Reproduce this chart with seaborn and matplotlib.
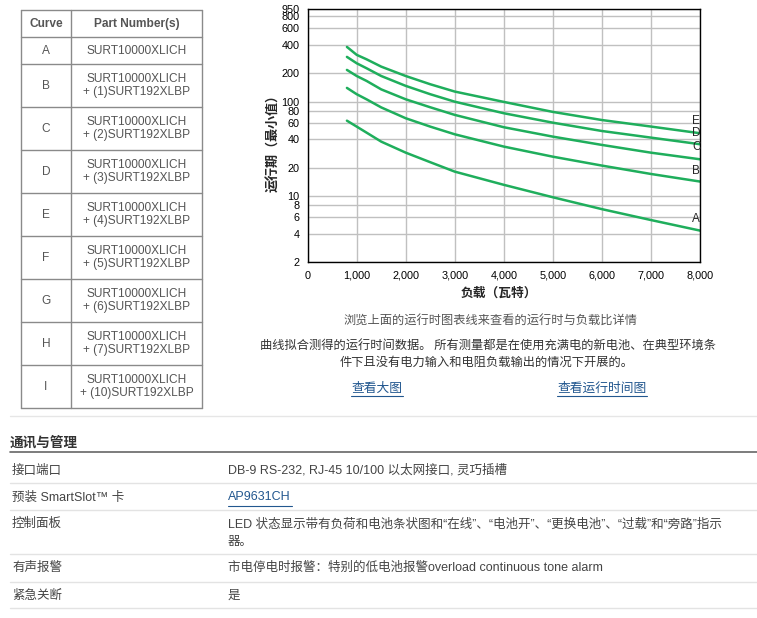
import numpy as np
import pandas as pd
import matplotlib
matplotlib.use('Agg')
import matplotlib.pyplot as plt
from matplotlib.ticker import NullLocator
import seaborn as sns

# runtime curves (minutes)
loads = [800, 1000, 1200, 1500, 2000, 2500, 3000, 4000, 5000, 6000, 7000, 8000]
curve_a = [63, 54.5, 47.1, 37.8, 28.9, 22.9, 18.2, 13.2, 9.75, 7.3, 5.6, 4.33]
curve_b = [140, 120, 106, 87, 66.8, 54.5, 45.2, 33.5, 26.2, 21.1, 17.2, 14.3]
curve_c = [217, 187, 166, 135, 106, 87.3, 72.5, 53.7, 42.7, 34.9, 28.9, 24.6]
curve_d = [298, 255, 226, 187, 147, 120, 100, 75.5, 60, 49, 41.7, 35.5]
curve_e = [380, 313, 281, 235, 187, 153, 128, 99.5, 78, 64, 54.6, 46.4]
curve_names = ['A', 'B', 'C', 'D', 'E']
label_y = [5.7, 18.7, 33.5, 47, 63]

xticks = [0, 1000, 2000, 3000, 4000, 5000, 6000, 7000, 8000]
yticks = [2, 4, 6, 8, 10, 20, 40, 60, 80, 100, 200, 400, 600, 800, 950]

table_curves = ['A', 'B', 'C', 'D', 'E', 'F', 'G', 'H', 'I']
table_parts = ['SURT10000XLICH',
               'SURT10000XLICH\n+ (1)SURT192XLBP',
               'SURT10000XLICH\n+ (2)SURT192XLBP',
               'SURT10000XLICH\n+ (3)SURT192XLBP',
               'SURT10000XLICH\n+ (4)SURT192XLBP',
               'SURT10000XLICH\n+ (5)SURT192XLBP',
               'SURT10000XLICH\n+ (6)SURT192XLBP',
               'SURT10000XLICH\n+ (7)SURT192XLBP',
               'SURT10000XLICH\n+ (10)SURT192XLBP']

spec_keys = ['接口端口', '预装 SmartSlot™ 卡', '控制面板', '有声报警', '紧急关断']
spec_vals = ['DB-9 RS-232, RJ-45 10/100 以太网接口, 灵巧插槽',
             'AP9631CH',
             'LED 状态显示带有负荷和电池条状图和“在线”、“电池开”、“更换电池”、“过载”和“旁路”指示\n器。',
             '市电停电时报警：特别的低电池报警overload continuous tone alarm',
             '是']

sns.set_style('white')
plt.rcParams['font.family'] = ['Liberation Sans', 'Noto Sans CJK SC', 'DejaVu Sans']
CJK = ['Noto Sans CJK SC', 'Liberation Sans']

df = pd.concat([pd.DataFrame({'load': loads, 'runtime': v, 'curve': n})
                for n, v in zip(curve_names, [curve_a, curve_b, curve_c, curve_d, curve_e])])

W, H = 757, 618
fig = plt.figure(figsize=(W / 100, H / 100), dpi=100)

# page background axes in pixel coordinates
bg = fig.add_axes([0, 0, 1, 1], zorder=0)
bg.set_xlim(0, W)
bg.set_ylim(H, 0)
bg.axis('off')

# chart
x0, x1, y0, y1 = 307.7, 700, 9.3, 262.3
ax = fig.add_axes([x0 / W, 1 - y1 / H, (x1 - x0) / W, (y1 - y0) / H], zorder=2)
green = '#1fae5c'
sns.lineplot(data=df, x='load', y='runtime', hue='curve', palette=[green] * 5,
             legend=False, ax=ax, linewidth=1.8)
ax.set_yscale('log')
ax.set_xlim(0, 8000)
ax.set_ylim(2, 950)
ax.set_xticks(xticks)
ax.set_xticklabels([f'{v:,}' for v in xticks], fontsize=7.8)
ax.set_yticks(yticks)
ax.set_yticklabels([str(v) for v in yticks], fontsize=7.8)
ax.yaxis.set_minor_locator(NullLocator())
ax.grid(True, color='#c0c0c0', linewidth=1)
ax.tick_params(direction='out', length=4, width=1, color='black', pad=2, labelcolor='black')
for s in ax.spines.values():
    s.set_color('black')
    s.set_linewidth(1)
ax.set_xlabel('')
ax.set_ylabel('')
for n, yv in zip(curve_names, label_y):
    ax.text(7840, yv, n, fontsize=8.5, va='center', ha='left')

bg.text(273, 140, '运行期（最小值）', rotation=90, ha='center', va='center',
        fontsize=9.4, fontweight='bold', family=CJK)
bg.text(499, 293, '负载（瓦特）', ha='center', va='center',
        fontsize=9.2, fontweight='bold', family=CJK)

# curve / part number table
tl, tm, tr = 20.7, 71.3, 202.3
rows_y = [10.3, 37, 64.3, 107.3, 150.3, 193.3, 236.3, 279.3, 322.3, 365.3, 408.3]
bc = '#8a8a8a'
for yy in rows_y:
    bg.plot([tl, tr], [yy, yy], color=bc, lw=1)
for xx in [tl, tm, tr]:
    bg.plot([xx, xx], [rows_y[0], rows_y[-1]], color=bc, lw=1)
tc = '#555555'
bg.text((tl + tm) / 2, 23.7, 'Curve', ha='center', va='center', fontsize=8.6,
        fontweight='bold', color=tc)
bg.text((tm + tr) / 2, 23.7, 'Part Number(s)', ha='center', va='center', fontsize=8.6,
        fontweight='bold', color=tc)
for i, (c, p) in enumerate(zip(table_curves, table_parts)):
    yc = (rows_y[i + 1] + rows_y[i + 2]) / 2
    bg.text((tl + tm) / 2, yc, c, ha='center', va='center', fontsize=8.6, color=tc)
    bg.text((tm + tr) / 2, yc, p, ha='center', va='center', fontsize=8.6, color=tc,
            linespacing=1.15)
bg.plot([10, W], [416, 416], color='#e6e6e6', lw=1)

# notes under the chart
bg.text(490, 320, '浏览上面的运行时图表线来查看的运行时与负载比详情', ha='center', va='center',
        fontsize=8.8, style='italic', color='#555555', family=CJK)
bg.text(488, 346, '曲线拟合测得的运行时间数据。 所有测量都是在使用充满电的新电池、在典型环境条',
        ha='center', va='center', fontsize=8.8, color='#333333', family=CJK)
bg.text(487, 362, '件下且没有电力输入和电阻负载输出的情况下开展的。',
        ha='center', va='center', fontsize=8.8, color='#333333', family=CJK)
link = '#22578f'
for xc, txt, wd in [(377, '查看大图', 52), (602, '查看运行时间图', 90)]:
    bg.text(xc, 388, txt, ha='center', va='center', fontsize=9.2, color=link, family=CJK)
    bg.plot([xc - wd / 2, xc + wd / 2], [396, 396], color=link, lw=0.8)

# communications & management section
bg.text(10, 443, '通讯与管理', ha='left', va='center', fontsize=9.8, fontweight='bold',
        color='#333333', family=CJK)
bg.plot([10, W], [452.3, 452.3], color='#666666', lw=1.2)
key_y = [470.7, 497.5, 524, 568.3, 596]
val_y = [470.7, 497.5, 533, 568.3, 596]
seps = [483.3, 510, 554.3, 581.7, 608.3]
for k, v, yk, yv in zip(spec_keys, spec_vals, key_y, val_y):
    bg.text(12, yk, k, ha='left', va='center', fontsize=9, color='#444444')
    col = link if v == 'AP9631CH' else '#444444'
    bg.text(228, yv, v, ha='left', va='center', fontsize=9, color=col, linespacing=1.55)
bg.plot([228, 292], [506, 506], color=link, lw=0.8)
for yy in seps:
    bg.plot([10, W], [yy, yy], color='#e3e3e3', lw=1)

fig.savefig('out.png', dpi=100)
